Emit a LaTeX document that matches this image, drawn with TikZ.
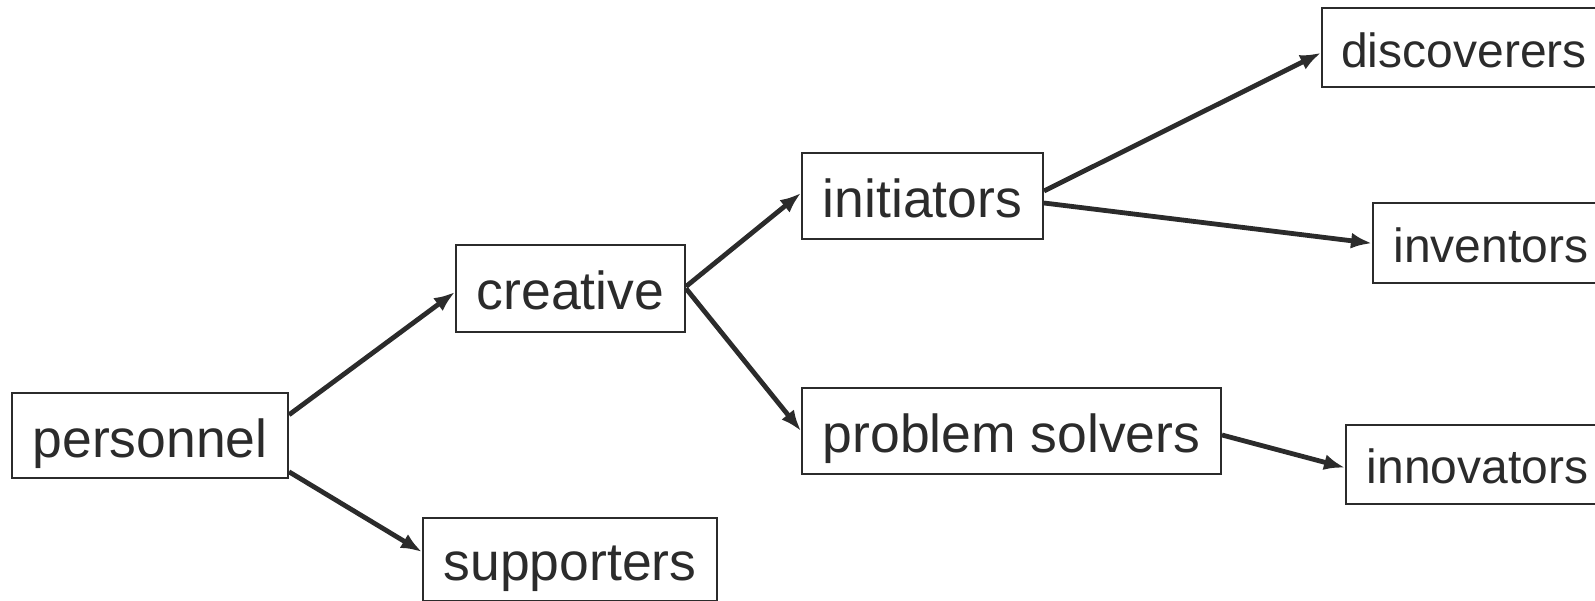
\documentclass[tikz,border=0pt]{standalone}
\usepackage{fontspec}
\setmainfont{Liberation Sans}
\usetikzlibrary{arrows.meta}
\definecolor{ink}{HTML}{2B2B2B}
\begin{document}
\begin{tikzpicture}[x=1pt,y=-1pt,
  box/.style={draw=ink, line width=2pt, inner sep=0pt, text=ink},
  big/.style={box, font=\fontsize{53.5}{60}\selectfont, text height=42.5pt, text depth=0pt},
  small/.style={box, font=\fontsize{48}{56}\selectfont, text height=38.5pt, text depth=0pt},
  link/.style={draw=ink, line width=4.8pt, -{Latex[length=21pt,width=16pt]}}]
\useasboundingbox (0,0) rectangle (1595,601);
\node[big, minimum width=276pt, minimum height=85pt] (per) at (150,435.8) {personnel};
\node[big, minimum width=229pt, minimum height=87pt] (cre) at (570.5,288.5) {creative};
\node[big, minimum width=294pt, minimum height=83pt] (sup) at (570,559.5) {supporters};
\node[big, minimum width=241pt, minimum height=86pt] (ini) at (922.5,196) {initiators};
\node[big, minimum width=419pt, minimum height=86pt] (pro) at (1011.5,431) {problem solvers};
\node[small, minimum width=284pt, minimum height=79pt] (dis) at (1464,47.8) {discoverers};
\node[small, minimum width=236pt, minimum height=80pt] (inv) at (1491,243.3) {inventors};
\node[small, minimum width=263pt, minimum height=79pt] (inn) at (1477.5,464.7) {innovators};
\draw[link] ([yshift=21pt]per.east) -- ([yshift=-3.5pt]cre.west);
\draw[link] ([yshift=-36pt]per.east) -- ([yshift=7.5pt]sup.west);
\draw[link] ([yshift=2pt]cre.east) -- ([yshift=3pt]ini.west);
\draw[link] (cre.east) -- (pro.west);
\draw[link] ([yshift=5pt]ini.east) -- ([yshift=-5pt]dis.west);
\draw[link] ([yshift=-7pt]ini.east) -- (inv.west);
\draw[link] ([yshift=-4pt]pro.east) -- ([yshift=-3pt]inn.west);
\end{tikzpicture}
\end{document}
